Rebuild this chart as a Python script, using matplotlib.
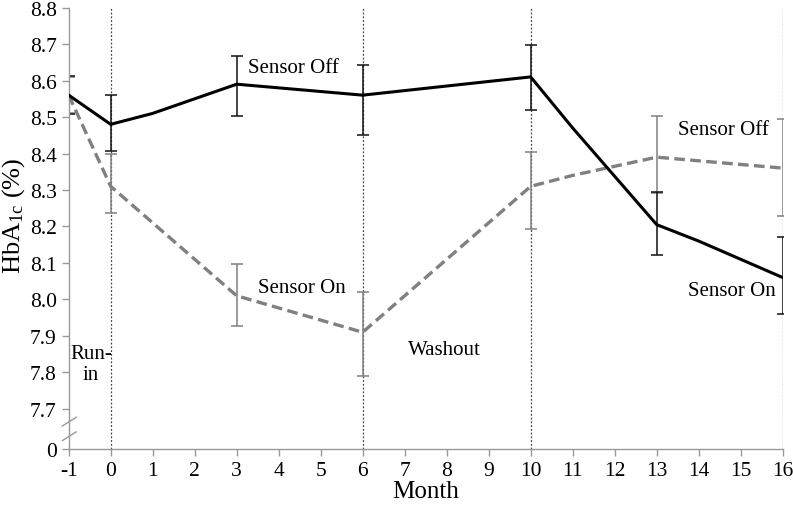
import matplotlib
matplotlib.use("Agg")
import matplotlib.pyplot as plt

plt.rcParams['font.family'] = ['Liberation Serif', 'DejaVu Serif']
plt.rcParams['mathtext.fontset'] = 'custom'
plt.rcParams['mathtext.rm'] = 'Liberation Serif'
plt.rcParams['mathtext.it'] = 'Liberation Serif:italic'

# Data
months = [-1, 0, 1, 3, 6, 10, 11, 13, 14, 16]
solid_vals = [8.56, 8.48, 8.51, 8.59, 8.56, 8.61, 8.47, 8.205, 8.16, 8.06]
dashed_vals = [8.56, 8.31, 8.21, 8.01, 7.91, 8.31, 8.34, 8.39, 8.38, 8.36]

err_months = [-1, 0, 3, 6, 10, 13, 16]
solid_err_mean = [8.56, 8.48, 8.59, 8.56, 8.61, 8.205, 8.06]
solid_err_lo = [8.508, 8.408, 8.502, 8.451, 8.52, 8.122, 7.96]
solid_err_hi = [8.613, 8.561, 8.668, 8.642, 8.698, 8.295, 8.17]
dashed_err_mean = [8.56, 8.31, 8.01, 7.91, 8.31, 8.39, 8.36]
dashed_err_lo = [8.51, 8.237, 7.928, 7.789, 8.193, 8.292, 8.23]
dashed_err_hi = [8.61, 8.40, 8.097, 8.02, 8.405, 8.502, 8.494]

vlines_x = [0, 6, 10, 16]
xticks = list(range(-1, 17))
ytick_vals = [7.59, 7.7, 7.8, 7.9, 8.0, 8.1, 8.2, 8.3, 8.4, 8.5, 8.6, 8.7, 8.8]
ytick_labels = ['0', '7.7', '7.8', '7.9', '8.0', '8.1', '8.2', '8.3', '8.4', '8.5', '8.6', '8.7', '8.8']

fig = plt.figure(figsize=(7.93, 5.06), dpi=100)
ax = fig.add_axes([0.0866, 0.1107, 0.987 - 0.0866, 0.983 - 0.1107])

for xv in vlines_x:
    ax.axvline(xv, color='#444444', lw=0.9, ls=(0, (1.5, 1.5)), zorder=1)

# error bars
def draw_err(mx, mean, lo, hi, color):
    yerr = [[m - l for m, l in zip(mean, lo)], [h - m for m, h in zip(mean, hi)]]
    ax.errorbar(mx, mean, yerr=yerr, fmt='none', ecolor=color, elinewidth=1.1,
                capsize=4, capthick=1.1, zorder=2)

draw_err(err_months, dashed_err_mean, dashed_err_lo, dashed_err_hi, '#808080')
draw_err(err_months, solid_err_mean, solid_err_lo, solid_err_hi, '#111111')

ax.plot(months, dashed_vals, color='#808080', lw=2.4, ls=(0, (3.2, 1.6)), zorder=3)
ax.plot(months, solid_vals, color='black', lw=2.2, zorder=4)

ax.set_xlim(-1, 16)
ax.set_ylim(7.59, 8.8)
ax.set_xticks(xticks)
ax.set_xticklabels([str(t) for t in xticks])
ax.set_yticks(ytick_vals)
ax.set_yticklabels(ytick_labels)

for s in ['top', 'right']:
    ax.spines[s].set_visible(False)
for s in ['left', 'bottom']:
    ax.spines[s].set_color('#999999')
    ax.spines[s].set_linewidth(1.0)
ax.tick_params(axis='both', colors='#999999', labelcolor='black', labelsize=15.5,
               length=5, width=1.0, direction='out')
ax.tick_params(axis='x', pad=4)

ax.set_xlabel('Month', fontsize=18, labelpad=0)
ax.set_ylabel('HbA$_{\\mathrm{1c}}$ (%)', fontsize=19)
ax.yaxis.set_label_coords(-0.058, 0.53)

# axis break marks
ybrk = [7.625, 7.665]
for yb in ybrk:
    ax.plot([-1.15, -0.82], [yb - 0.012, yb + 0.012], color='#999999', lw=1.0,
            clip_on=False, zorder=5)

# annotations
ax.text(3.27, 8.637, 'Sensor Off', fontsize=15, va='center', ha='left')
ax.text(3.5, 8.034, 'Sensor On', fontsize=15, va='center', ha='left')
ax.text(13.5, 8.467, 'Sensor Off', fontsize=15, va='center', ha='left')
ax.text(13.75, 8.024, 'Sensor On', fontsize=15, va='center', ha='left')
ax.text(7.08, 7.862, 'Washout', fontsize=15, va='center', ha='left')
ax.text(-0.47, 7.823, 'Run-\nin', fontsize=15, va='center', ha='center',
        linespacing=1.1, clip_on=False)

fig.savefig('out.png', dpi=100)
